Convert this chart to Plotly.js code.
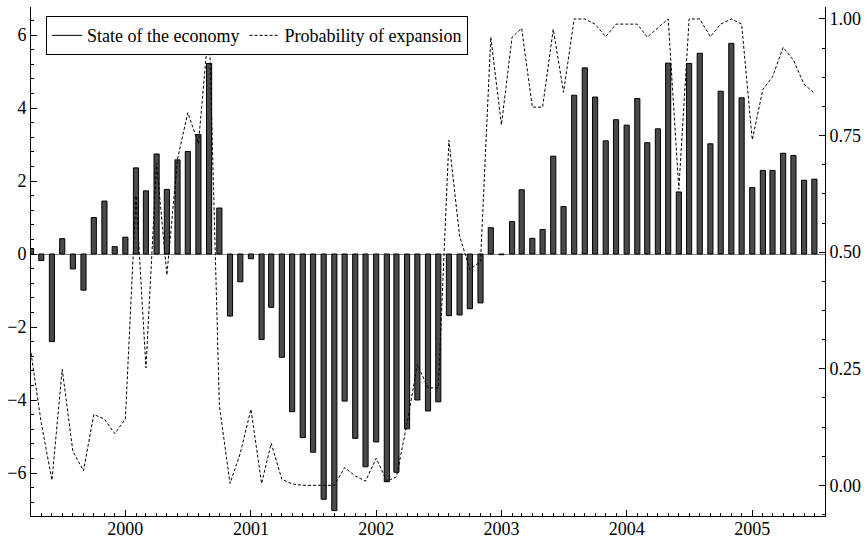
<!DOCTYPE html>
<html>
<head>
<meta charset="utf-8">
<script src="https://cdn.plot.ly/plotly-3.0.1.min.js"></script>
<style>html,body{margin:0;padding:0;background:#fff;}#chart{width:865px;height:540px;}</style>
</head>
<body>
<div id="chart"></div>
<script>
// Monthly observations, April 1999 – July 2005
var startYear = 1999, startMonth = 4;
var stateOfEconomy = [
  0.15, -0.18, -2.40, 0.42, -0.41, -0.99, 1.00, 1.45, 0.20,
  0.46, 2.36, 1.73, 2.74, 1.77, 2.58, 2.81, 3.27, 5.22, 1.26, -1.70, -0.76,
  -0.13, -2.34, -1.46, -2.83, -4.32, -5.03, -5.43, -6.72, -7.03, -4.03, -5.05, -5.83,
  -5.15, -6.24, -5.98, -4.79, -4.00, -4.30, -4.05, -1.69, -1.67, -1.50, -1.34, 0.72,
  -0.02, 0.89, 1.76, 0.43, 0.67, 2.68, 1.30, 4.35, 5.10, 4.30, 3.10, 3.68,
  3.53, 4.26, 3.05, 3.43, 5.23, 1.70, 5.22, 5.50, 3.02, 4.46, 5.77, 4.28,
  1.82, 2.29, 2.29, 2.76, 2.70, 2.02, 2.05
];
var probExpansion = [
  0.284, 0.133, 0.011, 0.249, 0.073, 0.031, 0.152, 0.142, 0.111,
  0.142, 0.621, 0.252, 0.691, 0.451, 0.700, 0.799, 0.733, 0.991, 0.171, 0.004, 0.069,
  0.163, 0.004, 0.090, 0.013, 0.003, 0.000, 0.000, 0.000, 0.000, 0.038, 0.020, 0.009,
  0.058, 0.009, 0.018, 0.133, 0.259, 0.209, 0.209, 0.740, 0.535, 0.463, 0.480, 0.961,
  0.773, 0.961, 0.980, 0.811, 0.811, 0.978, 0.843, 1.000, 1.000, 0.989, 0.962, 0.989,
  0.989, 0.989, 0.961, 0.980, 1.000, 0.635, 1.000, 1.000, 0.962, 0.989, 1.000, 0.989,
  0.741, 0.849, 0.876, 0.939, 0.912, 0.860, 0.841
];
var rightTickVals = [0, 0.25, 0.5, 0.75, 1.0];
var seriesNames = ["State of the economy", "Probability of expansion"];

var months = [];
for (var i = 0; i < stateOfEconomy.length; i++) {
  var m = startMonth - 1 + i;
  var y = startYear + Math.floor(m / 12);
  var mm = (m % 12) + 1;
  months.push(y + "-" + (mm < 10 ? "0" + mm : mm) + "-01");
}

var font = "Liberation Serif";

var traces = [
  {
    type: "bar", x: months, y: stateOfEconomy, name: seriesNames[0],
    showlegend: false, width: 15 * 86400000,
    marker: {color: "#4a4a4a", line: {color: "#000", width: 1}},
    yaxis: "y", hoverinfo: "x+y"
  },
  {
    type: "scatter", mode: "lines", x: [null], y: [null], name: seriesNames[0],
    line: {color: "#000", width: 1}, yaxis: "y"
  },
  {
    type: "scatter", mode: "lines", x: months, y: probExpansion, name: seriesNames[1],
    line: {color: "#000", width: 1, dash: "3px,2px"}, yaxis: "y2"
  }
];

var layout = {
  width: 865, height: 540,
  margin: {l: 31, r: 40, t: 7, b: 24, pad: 0},
  paper_bgcolor: "#fff", plot_bgcolor: "#fff",
  font: {family: font, size: 18, color: "#000"},
  bargap: 0,
  xaxis: {
    type: "date", range: ["1999-04-01", "2005-08-01"],
    tick0: "2000-01-01", dtick: "M12", tickformat: "%Y",
    ticks: "inside", ticklen: 6, tickcolor: "#000", tickwidth: 1,
    showline: true, linecolor: "#000", linewidth: 1,
    showgrid: false, zeroline: false,
    ticklabelstandoff: -4,
    tickfont: {family: font, size: 18},
    minor: {dtick: "M1", ticks: "inside", ticklen: 3, tickcolor: "#000", showgrid: false}
  },
  yaxis: {
    range: [-7.178, 6.767], tick0: 0, dtick: 2,
    ticks: "inside", ticklen: 6, tickcolor: "#000",
    showline: true, linecolor: "#000", linewidth: 1,
    showgrid: false, zeroline: true, zerolinecolor: "#888", zerolinewidth: 1,
    tickfont: {family: font, size: 18},
    minor: {dtick: 0.4, tick0: 0, ticks: "inside", ticklen: 3, tickcolor: "#000", showgrid: false}
  },
  yaxis2: {
    overlaying: "y", side: "right",
    range: [-0.0658, 1.0257], tickvals: rightTickVals, tickformat: ".2f",
    ticks: "inside", ticklen: 6, tickcolor: "#000",
    showline: true, linecolor: "#000", linewidth: 1,
    showgrid: false, zeroline: false,
    tickfont: {family: font, size: 18},
    minor: {dtick: 0.0625, tick0: 0, ticks: "inside", ticklen: 3, tickcolor: "#000", showgrid: false}
  },
  legend: {
    orientation: "h", x: 0.019, y: 0.982, xanchor: "left", yanchor: "top",
    bgcolor: "#fff", bordercolor: "#000", borderwidth: 1,
    font: {family: font, size: 18}, itemwidth: 30
  },
  showlegend: true
};

Plotly.newPlot("chart", traces, layout, {displayModeBar: false, staticPlot: true});
</script>
</body>
</html>
